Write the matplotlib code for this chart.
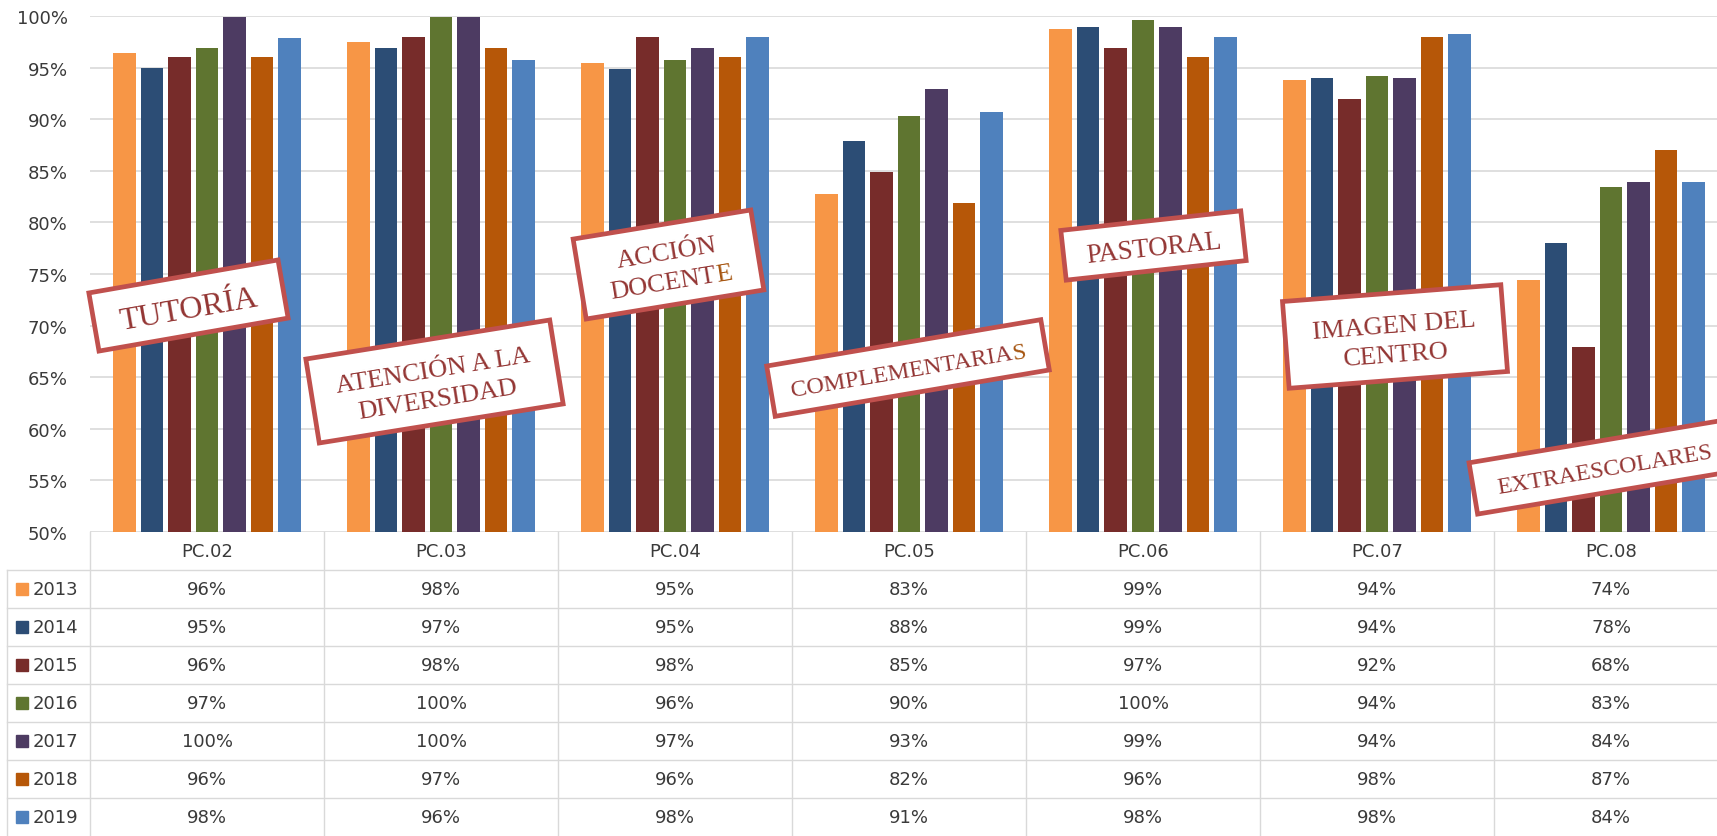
import matplotlib
matplotlib.use("Agg")
import matplotlib.pyplot as plt
import numpy as np
from matplotlib.patches import Rectangle
from matplotlib.transforms import Affine2D

# data
categories = ['PC.02', 'PC.03', 'PC.04', 'PC.05', 'PC.06', 'PC.07', 'PC.08']
years = ['2013', '2014', '2015', '2016', '2017', '2018', '2019']
v2013 = [96.4, 97.5, 95.4, 82.8, 98.7, 93.8, 74.4]
v2014 = [95.0, 96.9, 94.9, 87.9, 98.9, 94.0, 78.0]
v2015 = [96.0, 98.0, 98.0, 84.9, 96.9, 92.0, 67.9]
v2016 = [96.9, 99.9, 95.7, 90.3, 99.6, 94.2, 83.4]
v2017 = [99.9, 99.9, 96.9, 92.9, 98.9, 94.0, 83.9]
v2018 = [96.0, 96.9, 96.0, 81.9, 96.0, 98.0, 87.0]
v2019 = [97.9, 95.7, 98.0, 90.7, 98.0, 98.3, 83.9]
series = [v2013, v2014, v2015, v2016, v2017, v2018, v2019]
colors = ['#F79646', '#2C4D75', '#772C2A', '#5F7530', '#4D3B62', '#B65708', '#4F81BD']

# stamp labels: centre (px), size (px), angle, lines (text, tail in accent colour), font size
stamps = [
    ((188.5, 306.5), (192, 59), 9.9, [('TUTORÍA', '')], 23),
    ((434.5, 382.5), (247, 85), 9.1, [('ATENCIÓN A LA', ''), ('DIVERSIDAD', '')], 19),
    ((668.5, 265.5), (180, 81), 9.3, [('ACCIÓN', ''), ('DOCENT', 'E')], 19),
    ((908.0, 369.0), (278, 51), 9.6, [('COMPLEMENTARIA', 'S')], 17.5),
    ((1153.5, 246.5), (181, 50), 6.2, [('PASTORAL', '')], 19.4),
    ((1395.0, 337.5), (219, 87), 4.4, [('IMAGEN DEL', ''), ('CENTRO', '')], 19),
    ((1604.5, 467.5), (266, 52), 9.5, [('EXTRAESCOLARES', '')], 17.3),
]

W, H = 1717, 837
GRID = '#D9D9D9'
TXT = '#3A3A3A'
STAMP_TXT = '#943634'
STAMP_ACC = '#A65510'
STAMP_EDGE = '#C0504D'
SERIF = ['Liberation Serif', 'DejaVu Serif']

plt.rcParams['font.family'] = ['DejaVu Sans']

fig = plt.figure(figsize=(W / 100, H / 100), dpi=100)
left = 90 / W
width = 7 * 234 / W
ax = fig.add_axes([left, 1 - 533 / H, width, (533 - 17) / H])

x = np.arange(len(categories))
pitch = 0.1175
bw = 0.096
for i, (vals, c) in enumerate(zip(series, colors)):
    ax.bar(x + (i - 3) * pitch, vals, width=bw, color=c, zorder=2)

ax.set_xlim(-0.5, 6.5)
ax.set_ylim(50, 100)
ax.set_yticks(np.arange(50, 101, 5))
ax.set_yticklabels([f'{t}%' for t in range(50, 101, 5)], fontsize=13, color=TXT)
ax.set_xticks([])
ax.tick_params(axis='y', length=0, pad=16)
ax.yaxis.grid(True, color=GRID, lw=1.2)
ax.set_axisbelow(True)
for s in ax.spines.values():
    s.set_visible(False)

# data table under the chart
axt = fig.add_axes([left, 0, width, (H - 533) / H])
axt.set_xlim(-0.5, 6.5)
axt.set_ylim(8, 0)
axt.axis('off')
x_leg = (7 - 90) / 234 - 0.5
for k in range(8):
    axt.plot([k - 0.5, k - 0.5], [0, 8], color=GRID, lw=1, clip_on=False)
axt.plot([x_leg, x_leg], [1, 8], color=GRID, lw=1, clip_on=False)
for r in range(1, 8):
    axt.plot([x_leg, 6.5], [r, r], color=GRID, lw=1, clip_on=False)
for j, cat in enumerate(categories):
    axt.text(j, 0.5, cat, ha='center', va='center', fontsize=13, color=TXT)
for i, (yr, vals, c) in enumerate(zip(years, series, colors)):
    yc = i + 1.5
    axt.plot([(22 - 90) / 234 - 0.5], [yc], marker='s', ms=8.5, color=c, clip_on=False)
    axt.text((33 - 90) / 234 - 0.5, yc, yr, ha='left', va='center', fontsize=13, color=TXT)
    for j, v in enumerate(vals):
        axt.text(j, yc, f'{v:.0f}%', ha='center', va='center', fontsize=13, color=TXT)

# stamp overlay in pixel coordinates (y downwards)
axo = fig.add_axes([0, 0, 1, 1], zorder=5)
axo.set_xlim(0, W)
axo.set_ylim(H, 0)
axo.axis('off')
axo.patch.set_alpha(0)
renderer = fig.canvas.get_renderer()


def text_w(s, size):
    t = axo.text(0, 0, s, fontsize=size, family=SERIF)
    w = t.get_window_extent(renderer).width
    t.remove()
    return w


for (cx, cy), (bw_px, bh_px), ang, lines, size in stamps:
    rect = Rectangle((cx - bw_px / 2, cy - bh_px / 2), bw_px, bh_px,
                     facecolor='white', edgecolor=STAMP_EDGE, lw=3.4,
                     transform=Affine2D().rotate_deg_around(cx, cy, -ang) + axo.transData)
    axo.add_patch(rect)
    th = np.deg2rad(ang)
    d = np.array([np.cos(th), -np.sin(th)])
    p = np.array([np.sin(th), np.cos(th)])
    size_px = size * 100 / 72
    step = 1.12 * size_px
    n = len(lines)
    for k, (head, tail) in enumerate(lines):
        w_head = text_w(head, size)
        w_all = text_w(head + tail, size)
        centre = np.array([cx, cy]) + ((k - (n - 1) / 2) * step + 0.36 * size_px) * p
        start = centre - w_all / 2 * d
        axo.text(start[0], start[1], head, fontsize=size, family=SERIF, color=STAMP_TXT,
                 rotation=ang, rotation_mode='anchor', ha='left', va='baseline')
        if tail:
            st = start + w_head * d
            axo.text(st[0], st[1], tail, fontsize=size, family=SERIF, color=STAMP_ACC,
                     rotation=ang, rotation_mode='anchor', ha='left', va='baseline')

fig.savefig('out.png', dpi=100)
